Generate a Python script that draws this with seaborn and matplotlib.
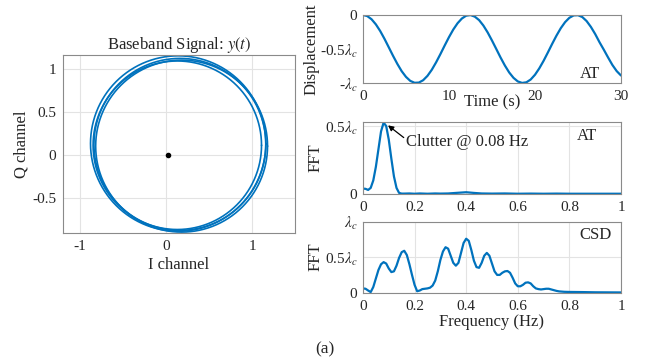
import numpy as np
import pandas as pd
import matplotlib
matplotlib.use("Agg")
import matplotlib.pyplot as plt
import seaborn as sns

# ---------------- data ----------------
# Baseband IQ ring: loops (centre x, centre y, radius)
loop_cx = [0.14, 0.16, 0.13, 0.18]
loop_cy = [0.13, 0.12, 0.11, 0.10]
loop_r = [1.02, 1.00, 0.98, 1.00]
dc_point = [0.02, 0.0]

# Displacement (in units of lambda_c) vs time (s)
time_s = [0.0, 0.5, 1.0, 1.5, 2.0, 2.5, 3.0, 3.5, 4.0, 4.5, 5.0, 5.5, 6.0, 6.5, 7.0,
          7.5, 8.0, 8.5, 9.0, 9.5, 10.0, 10.5, 11.0, 11.5, 12.0, 12.5, 13.0, 13.5,
          14.0, 14.5, 15.0, 15.5, 16.0, 16.5, 17.0, 17.5, 18.0, 18.5, 19.0, 19.5,
          20.0, 20.5, 21.0, 21.5, 22.0, 22.5, 23.0, 23.5, 24.0, 24.5, 25.0, 25.5,
          26.0, 26.5, 27.0, 27.5, 28.0, 28.5, 29.0, 29.5, 30.0]
displacement = [0.0, -0.016, -0.063, -0.138, -0.235, -0.350, -0.475, -0.601, -0.720,
                -0.826, -0.910, -0.969, -0.997, -0.994, -0.959, -0.895, -0.806, -0.697,
                -0.576, -0.449, -0.326, -0.214, -0.121, -0.052, -0.010, -0.001, -0.024,
                -0.075, -0.155, -0.257, -0.375, -0.500, -0.626, -0.743, -0.845, -0.924,
                -0.977, -0.999, -0.990, -0.949, -0.879, -0.785, -0.674, -0.551, -0.424,
                -0.303, -0.194, -0.105, -0.041, -0.006, -0.003, -0.030, -0.089, -0.175,
                -0.280, -0.400, -0.510, -0.625, -0.735, -0.825, -0.890]

# FFT of AT displacement
freq_at = [0.00, 0.01, 0.02, 0.03, 0.04, 0.05, 0.06, 0.07, 0.08, 0.09, 0.10, 0.11,
           0.12, 0.13, 0.14, 0.15, 0.16, 0.18, 0.20, 0.22, 0.25, 0.28, 0.30, 0.33,
           0.36, 0.40, 0.43, 0.46, 0.50, 0.55, 0.60, 0.65, 0.70, 0.75, 0.80, 0.85,
           0.90, 0.95, 1.00]
fft_at = [0.040, 0.038, 0.030, 0.045, 0.10, 0.20, 0.33, 0.46, 0.525, 0.50, 0.40, 0.26,
          0.13, 0.045, 0.008, 0.003, 0.003, 0.004, 0.002, 0.004, 0.002, 0.004, 0.003,
          0.004, 0.008, 0.013, 0.008, 0.004, 0.003, 0.004, 0.002, 0.003, 0.002, 0.003,
          0.002, 0.002, 0.002, 0.002, 0.002]

# FFT of CSD displacement
freq_csd = [0.00, 0.01, 0.02, 0.03, 0.04, 0.05, 0.06, 0.07, 0.08, 0.09, 0.10, 0.11,
            0.12, 0.13, 0.14, 0.15, 0.16, 0.17, 0.18, 0.19, 0.20, 0.21, 0.22, 0.23,
            0.24, 0.25, 0.26, 0.27, 0.28, 0.29, 0.30, 0.31, 0.32, 0.33, 0.34, 0.35,
            0.36, 0.37, 0.38, 0.39, 0.40, 0.41, 0.42, 0.43, 0.44, 0.45, 0.46, 0.47,
            0.48, 0.49, 0.50, 0.51, 0.52, 0.53, 0.54, 0.55, 0.56, 0.57, 0.58, 0.59,
            0.60, 0.61, 0.62, 0.63, 0.64, 0.65, 0.66, 0.67, 0.68, 0.69, 0.70, 0.71,
            0.72, 0.73, 0.74, 0.75, 0.76, 0.78, 0.80, 0.85, 0.90, 0.95, 1.00]
fft_csd = [0.06, 0.055, 0.03, 0.008, 0.08, 0.20, 0.32, 0.40, 0.43, 0.41, 0.34, 0.29,
           0.30, 0.38, 0.49, 0.57, 0.59, 0.53, 0.40, 0.25, 0.11, 0.02, 0.03, 0.05,
           0.055, 0.06, 0.07, 0.10, 0.17, 0.30, 0.46, 0.58, 0.64, 0.62, 0.52, 0.42,
           0.38, 0.42, 0.56, 0.70, 0.76, 0.73, 0.60, 0.45, 0.36, 0.35, 0.42, 0.52,
           0.56, 0.52, 0.41, 0.30, 0.25, 0.25, 0.28, 0.30, 0.305, 0.28, 0.21, 0.13,
           0.09, 0.09, 0.11, 0.14, 0.145, 0.13, 0.09, 0.06, 0.05, 0.045, 0.05, 0.055,
           0.055, 0.045, 0.035, 0.025, 0.018, 0.012, 0.010, 0.008, 0.005, 0.004, 0.003]

freq_ticks = [0, 0.2, 0.4, 0.6, 0.8, 1]
freq_ticklabels = ["0", "0.2", "0.4", "0.6", "0.8", "1"]

# ---------------- style ----------------
sns.set_style("white")
plt.rcParams["font.family"] = ["Liberation Serif", "DejaVu Serif"]
plt.rcParams["mathtext.fontset"] = "stix"
plt.rcParams["axes.unicode_minus"] = False

BLUE = "#0072BD"
SPINE = "#8a8a8a"
GRID = "#e3e3e3"
FS_LAB = 12
FS_TICK = 11

fig = plt.figure(figsize=(6.47, 3.64), dpi=100)


def style_axes(ax, grid=True):
    for s in ax.spines.values():
        s.set_visible(True)
        s.set_color(SPINE)
        s.set_linewidth(0.8)
    ax.tick_params(direction="in", length=3, width=0.6, color=SPINE,
                   labelsize=FS_TICK, top=False, right=False)
    ax.tick_params(axis="x", pad=5)
    ax.tick_params(axis="y", pad=4)
    if grid:
        ax.grid(True, color=GRID, linewidth=0.8)
        ax.set_axisbelow(True)
    else:
        ax.grid(False)


# ---- left: IQ plot ----
axL = fig.add_axes([0.0974, 0.360, 0.3586, 0.489])
theta = np.linspace(0, 2 * np.pi, 361)
for i, (cx, cy, r) in enumerate(zip(loop_cx, loop_cy, loop_r)):
    df = pd.DataFrame({"I": cx + r * np.cos(theta), "Q": cy + r * np.sin(theta)})
    sns.lineplot(data=df, x="I", y="Q", sort=False, estimator=None, ax=axL,
                 color=BLUE, linewidth=1.2)
axL.plot([dc_point[0]], [dc_point[1]], "o", color="black", markersize=3)
axL.set_xlim(-1.2, 1.5)
axL.set_ylim(-0.91, 1.16)
axL.set_xticks([-1, 0, 1])
axL.set_xticklabels(["-1", "0", "1"])
axL.set_yticks([-0.5, 0, 0.5, 1])
axL.set_yticklabels(["-0.5", "0", "0.5", "1"])
style_axes(axL)
axL.tick_params(axis="y", pad=5)
axL.set_xlabel("I channel", fontsize=FS_LAB, labelpad=3)
axL.set_ylabel("Q channel", fontsize=FS_LAB, labelpad=2)
axL.set_title("Baseband Signal: $y(t)$", fontsize=FS_LAB, pad=4)

# ---- right top: displacement ----
ax1 = fig.add_axes([0.561, 0.772, 0.3988, 0.1868])
sns.lineplot(x=time_s, y=displacement, ax=ax1, color=BLUE, linewidth=1.6)
ax1.set_xlim(0, 30)
ax1.set_ylim(-1, 0)
ax1.set_xticks([0, 10, 20, 30])
ax1.set_yticks([-1, -0.5, 0])
ax1.set_yticklabels([r"-$\lambda_c$", r"-0.5$\lambda_c$", "0"])
style_axes(ax1, grid=False)
ax1.set_xlabel("Time (s)", fontsize=FS_LAB, labelpad=-6)
ax1.set_ylabel("Displacement", fontsize=FS_LAB, labelpad=0)
ax1.text(26.4, -0.87, "AT", fontsize=FS_LAB, ha="center", va="center")

# ---- right middle: FFT AT ----
ax2 = fig.add_axes([0.561, 0.467, 0.3988, 0.198])
sns.lineplot(x=freq_at, y=fft_at, ax=ax2, color=BLUE, linewidth=1.6)
ax2.set_xlim(0, 1)
ax2.set_ylim(0, 0.53)
ax2.set_xticks(freq_ticks)
ax2.set_xticklabels(freq_ticklabels)
ax2.set_yticks([0, 0.5])
ax2.set_yticklabels(["0", r"0.5$\lambda_c$"])
style_axes(ax2)
ax2.set_ylabel("FFT", fontsize=FS_LAB, labelpad=1)
ax2.text(0.87, 0.43, "AT", fontsize=FS_LAB, ha="center", va="center")
ax2.text(0.167, 0.385, "Clutter @ 0.08 Hz", fontsize=FS_LAB, ha="left", va="center")
ax2.annotate("", xy=(0.097, 0.505), xytext=(0.158, 0.415),
             arrowprops=dict(arrowstyle="-|>", color="black", lw=0.9,
                             mutation_scale=8, shrinkA=0, shrinkB=0))

# ---- right bottom: FFT CSD ----
ax3 = fig.add_axes([0.561, 0.196, 0.3988, 0.195])
sns.lineplot(x=freq_csd, y=fft_csd, ax=ax3, color=BLUE, linewidth=1.6)
ax3.set_xlim(0, 1)
ax3.set_ylim(0, 1)
ax3.set_xticks(freq_ticks)
ax3.set_xticklabels(freq_ticklabels)
ax3.set_yticks([0, 0.5, 1])
ax3.set_yticklabels(["0", r"0.5$\lambda_c$", r"$\lambda_c$"])
style_axes(ax3)
ax3.set_xlabel("Frequency (Hz)", fontsize=FS_LAB, labelpad=1)
ax3.set_ylabel("FFT", fontsize=FS_LAB, labelpad=1)
ax3.text(0.9, 0.81, "CSD", fontsize=FS_LAB, ha="center", va="center")

fig.text(0.502, 0.04, "(a)", fontsize=12.5, ha="center", va="center")

fig.savefig("out.png", dpi=100)
